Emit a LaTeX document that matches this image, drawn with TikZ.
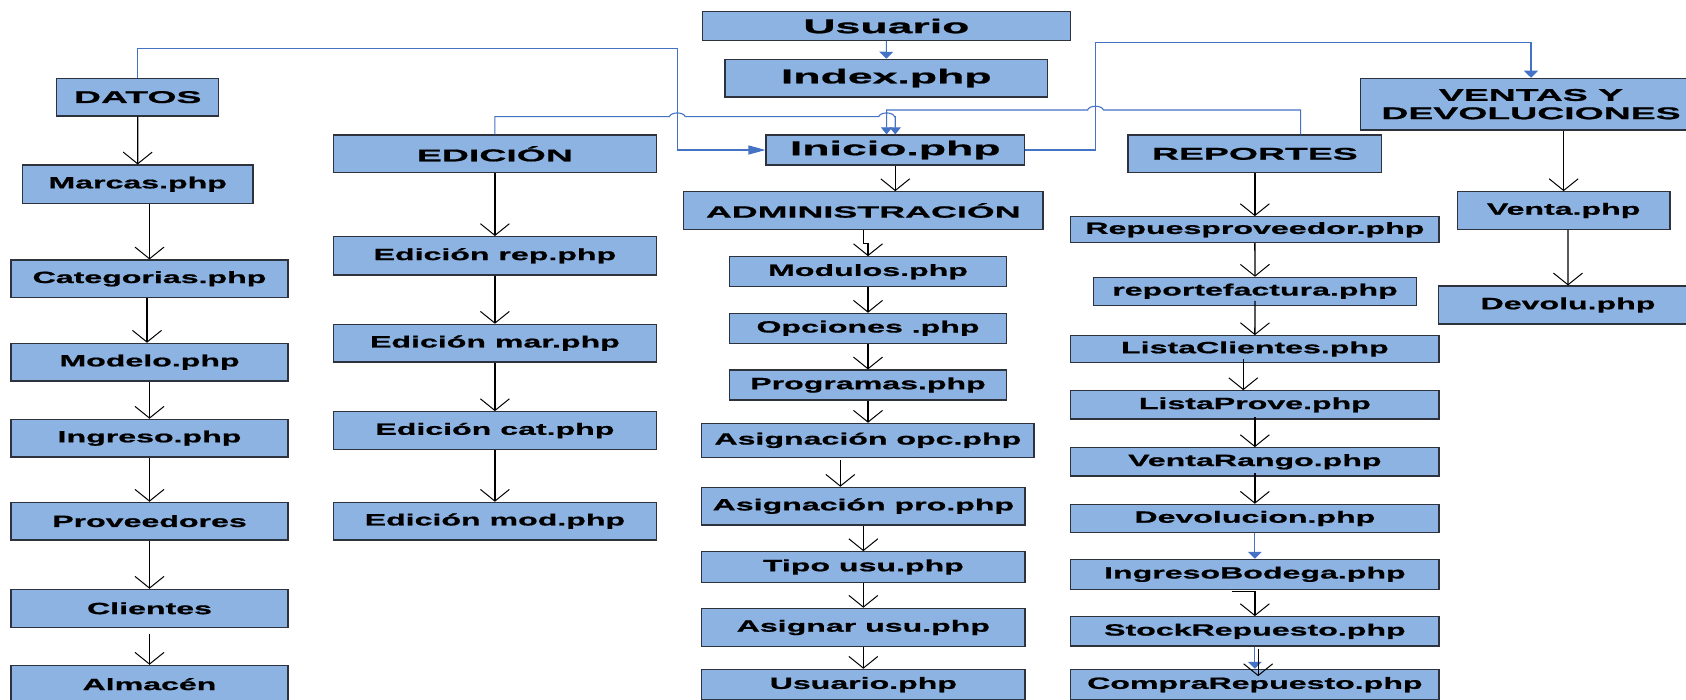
\documentclass[tikz,border=0pt]{standalone}
\usepackage{fontspec}
\setmainfont{Liberation Sans}
% wide, heavy bold faces used in the boxes
\newfontfamily\fontsmall[FakeStretch=1.97,FakeBold=0.9]{Liberation Sans}
\newfontfamily\fonthead[FakeStretch=2.2,FakeBold=0.9]{Liberation Sans}
\newfontfamily\fonttop[FakeStretch=2.23,FakeBold=0.9]{Liberation Sans}
\usetikzlibrary{arrows.meta,calc}
\definecolor{boxblue}{RGB}{141,179,226}
\definecolor{linkblue}{RGB}{68,114,196}
\definecolor{edgegray}{RGB}{45,50,60}

% style, x1, y1, x2, y2, name, text  (page pixels, y downwards)
\newcommand\placebox[7]{%
  \node[#1, minimum width={#4-#2}, minimum height={#5-#3}] (#6) at ({(#2+#4)/2},{(#3+#5)/2}) {#7};}

\begin{document}
\begin{tikzpicture}[x=1pt,y=-1pt,
  box/.style={draw=edgegray, line width=1.1pt, fill=boxblue, inner sep=0pt, align=center, text=black},
  smallbox/.style={box, font=\fontsmall\bfseries\fontsize{16.3}{18}\selectfont},
  headbox/.style={box, font=\fonthead\bfseries\fontsize{17}{18.3}\selectfont},
  adminbox/.style={box, font=\fonthead\bfseries\fontsize{16.3}{18}\selectfont},
  topbox/.style={box, font=\fonttop\bfseries\fontsize{20}{22}\selectfont},
  blk/.style={draw=black, line width=1.3pt, -{Straight Barb[length=11.7pt,width=29pt,line width=1pt]}},
  link/.style={draw=linkblue, line width=1.1pt, -{Triangle[length=7pt,width=14pt]}}]

\useasboundingbox (0,0) rectangle (1686,700);
\fill[white] (0,0) rectangle (1686,700);
\clip (0,0) rectangle (1686,700);

% ---------- top entries ----------
\placebox{topbox}{702.2}{11.7}{1070.6}{40.3}{usuario}{Usuario}
\placebox{topbox}{725}{59.3}{1047.5}{97}{index}{Index.php}
\placebox{topbox}{766}{135}{1024.5}{165}{inicio}{Inicio.php}

% ---------- section headers ----------
\placebox{headbox}{56.7}{78.3}{218.8}{116}{datos}{DATOS}
\placebox{headbox}{333.5}{135}{656.3}{172.7}{edic}{EDICIÓN}
\placebox{adminbox}{683.5}{191.7}{1043}{229.3}{admin}{ADMINISTRACIÓN}
\placebox{headbox}{1128}{135}{1381.7}{172.7}{reportes}{REPORTES}
\placebox{headbox}{1360.7}{78.3}{1701.3}{130}{ventas}{VENTAS Y\\DEVOLUCIONES}

% ---------- DATOS ----------
\placebox{smallbox}{22.3}{165}{253}{203.3}{marcas}{Marcas.php}
\placebox{smallbox}{11}{260}{288}{297.7}{cate}{Categorias.php}
\placebox{smallbox}{11}{343.3}{288}{381}{modelo}{Modelo.php}
\placebox{smallbox}{11}{419.3}{288}{457}{ingreso}{Ingreso.php}
\placebox{smallbox}{11}{502.3}{288}{540}{prov}{Proveedores}
\placebox{smallbox}{11}{589.3}{288}{627.3}{clientes}{Clientes}
\placebox{smallbox}{11}{665.3}{288}{703}{almacen}{Almacén}

% ---------- EDICIÓN ----------
\placebox{smallbox}{333.5}{236.6}{656.3}{275}{erep}{Edición rep.php}
\placebox{smallbox}{333.5}{324.3}{656.3}{362}{emar}{Edición mar.php}
\placebox{smallbox}{333.5}{411.7}{656.3}{449.3}{ecat}{Edición cat.php}
\placebox{smallbox}{333.5}{502.3}{656.3}{540}{emod}{Edición mod.php}

% ---------- ADMINISTRACIÓN ----------
\placebox{smallbox}{729.3}{256.7}{1006.7}{286.7}{modulos}{Modulos.php}
\placebox{smallbox}{729.3}{313.3}{1006.7}{343.3}{opciones}{Opciones .php}
\placebox{smallbox}{729.3}{370}{1006.7}{400}{programas}{Programas.php}
\placebox{smallbox}{701.7}{423.3}{1034}{457.3}{asopc}{Asignación opc.php}
\placebox{smallbox}{701.7}{487.3}{1025}{525}{aspro}{Asignación pro.php}
\placebox{smallbox}{701.7}{551.7}{1025}{582.3}{tipo}{Tipo usu.php}
\placebox{smallbox}{701.7}{608.3}{1025}{646.7}{asignar}{Asignar usu.php}
\placebox{smallbox}{701.7}{669.3}{1025}{700}{usuphp}{Usuario.php}

% ---------- REPORTES ----------
\placebox{smallbox}{1070.7}{216.7}{1439}{242.7}{repues}{Repuesproveedor.php}
\placebox{smallbox}{1093.3}{277.3}{1416.7}{305.3}{repfac}{reportefactura.php}
\placebox{smallbox}{1070.7}{335.7}{1439}{362.3}{listcli}{ListaClientes.php}
\placebox{smallbox}{1070.7}{390.7}{1439}{419}{listprov}{ListaProve.php}
\placebox{smallbox}{1070.7}{447.7}{1439}{476}{ventarango}{VentaRango.php}
\placebox{smallbox}{1070.7}{504.3}{1439}{532.7}{devolucion}{Devolucion.php}
\placebox{smallbox}{1070.7}{559.3}{1439}{589.3}{ingbod}{IngresoBodega.php}
\placebox{smallbox}{1070.7}{616.7}{1439}{646}{stock}{StockRepuesto.php}
\placebox{smallbox}{1070.7}{669.3}{1439}{700}{compra}{CompraRepuesto.php}

% ---------- VENTAS Y DEVOLUCIONES ----------
\placebox{smallbox}{1457.3}{191.7}{1670}{229.3}{venta}{Venta.php}
\placebox{smallbox}{1438.7}{286}{1697.3}{324}{devolu}{Devolu.php}

% ---------- black connectors ----------
\draw[blk] (datos.south) -- (marcas.north);
\draw[blk] (marcas.south -| cate.north) -- (cate.north);
\draw[blk] ([xshift=-2.5pt]cate.south) -- ([xshift=-2.5pt]modelo.north);
\draw[blk] (modelo.south) -- (ingreso.north);
\draw[blk] (ingreso.south) -- (prov.north);
\draw[blk] (prov.south) -- (clientes.north);
\draw[blk] ([yshift=-6pt]clientes.south) -- (almacen.north);

\draw[blk] (edic.south) -- (erep.north);
\draw[blk] (erep.south) -- (emar.north);
\draw[blk] (emar.south) -- (ecat.north);
\draw[blk] (ecat.south) -- (emod.north);

\draw[blk] (inicio.south) -- (inicio.south |- admin.north);
\draw[blk] (admin.south) -- ++(0,13.4) -| (modulos.north);
\draw[blk] (modulos.south) -- (opciones.north);
\draw[blk] (opciones.south) -- (programas.north);
\draw[blk] (programas.south) -- (programas.south |- asopc.north);
\coordinate (opcdrop) at ([xshift=-27.5pt]asopc.south);
\draw[blk] ([yshift=-2pt]opcdrop) -- (opcdrop |- aspro.north);
\draw[blk] (aspro.south) -- (tipo.north);
\draw[blk] (tipo.south) -- (asignar.north);
\draw[blk] (asignar.south) -- (usuphp.north);

\draw[blk] (reportes.south) -- (repues.north);
\draw[blk] (repues.south) -- (repfac.north);
\draw[blk] ([yshift=5pt]repfac.south) -- (listcli.north);
\coordinate (clidrop) at ([xshift=-11.6pt]listcli.south);
\draw[blk] ([yshift=4pt]clidrop) -- (clidrop |- listprov.north);
\draw[blk] ([yshift=2.3pt]listprov.south) -- (ventarango.north);
\draw[blk] ([yshift=3.7pt]ventarango.south) -- (devolucion.north);
\draw[blk] ([xshift=-23.2pt,yshift=-1.4pt]ingbod.south) -- ([yshift=-1.4pt]ingbod.south) -- (stock.north);
\coordinate (stockdrop) at ([xshift=3.3pt]stock.south);

\draw[blk] (ventas.south -| venta.north) -- (venta.north);
\draw[blk] ([xshift=4.3pt]venta.south) -- (devolu.north);

% ---------- blue links ----------
\draw[link] (usuario.south) -- (index.north);
\draw[link] (devolucion.south) -- (ingbod.north);
\draw[link] (stock.south) -- (compra.north);
\draw[blk] ([yshift=-2pt]stockdrop) -- ($(stockdrop |- compra.north)+(0,7.4)$);

\coordinate (datosbend) at (677.3,48.3);
\draw[link, -{Triangle[length=17pt,width=9pt]}] (datos.north) |- (datosbend) |- (inicio.west);

\draw[link, -{Triangle[length=7pt,width=11pt]}] (edic.north) |- (669.3,116.7)
  .. controls (671.3,111.7) and (683.3,111.7) .. (685.3,116.7)
  -- (878.6,116.7)
  .. controls (880.6,111.7) and (892.6,111.7) .. (894.6,116.7)
  -| (inicio.north);

\coordinate (repup) at ([xshift=45.8pt]reportes.north);
\draw[link, -{Triangle[length=7pt,width=11pt]}] (repup) |- (1103.5,110)
  .. controls (1101.5,105) and (1089.5,105) .. (1087.5,110)
  -| ([xshift=-8.7pt]inicio.north);

\draw[link] (inicio.east) -| (1095.5,42.3) -| (ventas.north);

\end{tikzpicture}
\end{document}
